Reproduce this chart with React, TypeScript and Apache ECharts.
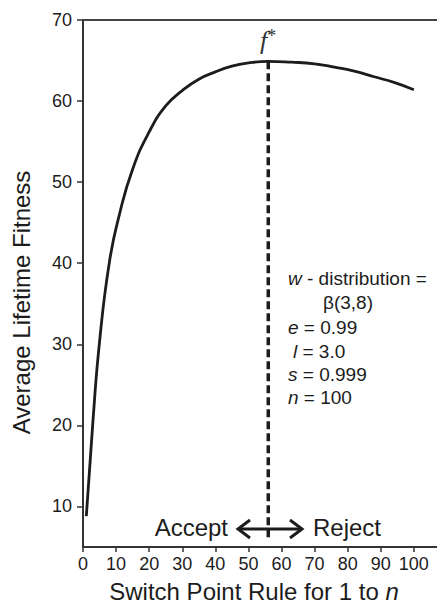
import React, { useEffect, useRef } from "react";
import * as echarts from "echarts";

// Switch point rule (x) and average lifetime fitness (y)
const switchPoints = [1, 3, 5, 8, 11, 15, 20, 25, 30, 35, 40, 45, 50, 56, 63, 70, 76, 82, 88, 94, 100];
const fitness = [8.8, 20.5, 30.3, 40.2, 46.0, 51.6, 56.2, 59.4, 61.3, 62.7, 63.6, 64.3, 64.7, 64.9, 64.8, 64.6, 64.2, 63.7, 63.0, 62.3, 61.4];

// Optimal switch point f*
const fStarX = 56;
const fStarTop = 64.9;
const fStarBottom = 5.7;

const xTicks = [0, 10, 20, 30, 40, 50, 60, 70, 80, 90, 100];
const yTicks = [10, 20, 30, 40, 50, 60, 70];

const paramLines = [
  "{i|w} - distribution =",
  "β(3,8)",
  "{i|e} = 0.99",
  "{i|l} = 3.0",
  "{i|s} = 0.999",
  "{i|n} = 100",
];

const SANS = '"Liberation Sans", Arial, Helvetica, sans-serif';
const SERIF = '"Liberation Serif", "DejaVu Serif", serif';
const INK = "#1c1c1c";

export default function App() {
  const ref = useRef<HTMLDivElement>(null);
  useEffect(() => {
    if (!ref.current) return;
    const chart = echarts.init(ref.current, undefined, { renderer: "svg" });
    const curve = switchPoints.map((x, i) => [x, fitness[i]]);
    const paramX = [288, 323, 288, 293, 288, 288];
    const paramY = [278, 302, 327, 351, 374, 397];
    const rich = {
      i: { fontStyle: "italic", fontSize: 19, fontFamily: SANS, fill: INK },
    };
    chart.setOption({
      animation: false,
      backgroundColor: "#ffffff",
      grid: { left: 83, top: 20, right: 0, bottom: 55, containLabel: false },
      xAxis: [
        {
          type: "value",
          min: 0,
          max: 107,
          position: "bottom",
          name: "Switch Point Rule for 1 to {i|n}",
          nameLocation: "middle",
          nameGap: 32,
          nameTextStyle: {
            fontSize: 24,
            fontFamily: SANS,
            color: INK,
            padding: [0, 12, 0, 0],
            rich: { i: { fontStyle: "italic", fontSize: 24, fontFamily: SANS, color: INK } },
          },
          axisLine: { show: true, lineStyle: { color: "#333", width: 2 } },
          axisTick: { show: true, length: 5, customValues: xTicks, lineStyle: { color: "#333", width: 1.5 } },
          axisLabel: { customValues: xTicks, fontSize: 18, fontFamily: SANS, color: INK, margin: 8 },
          splitLine: { show: false },
        },
        {
          type: "value",
          min: 0,
          max: 107,
          position: "top",
          axisLine: { show: true, lineStyle: { color: "#444", width: 2 } },
          axisTick: { show: false },
          axisLabel: { show: false },
          splitLine: { show: false },
        },
      ],
      yAxis: {
        type: "value",
        min: 5,
        max: 70,
        name: "Average Lifetime Fitness",
        nameLocation: "middle",
        nameGap: 50,
        nameTextStyle: { fontSize: 24, fontFamily: SANS, color: INK, padding: [0, 38, 0, 0] },
        axisLine: { show: true, lineStyle: { color: "#333", width: 2 } },
        axisTick: { show: true, length: 6, customValues: yTicks, lineStyle: { color: "#333", width: 1.5 } },
        axisLabel: { customValues: yTicks, fontSize: 18, fontFamily: SANS, color: INK, margin: 11 },
        splitLine: { show: false },
      },
      series: [
        {
          type: "line",
          data: curve,
          smooth: 0.5,
          showSymbol: false,
          lineStyle: { color: INK, width: 2.8 },
        },
        {
          type: "line",
          data: [
            [fStarX, fStarTop],
            [fStarX, fStarBottom],
          ],
          showSymbol: false,
          lineStyle: { color: INK, width: 3.5, type: [8, 4] },
        },
      ],
      graphic: [
        {
          type: "text",
          x: 268,
          y: 40,
          style: {
            text: "{f|f}{s|*}",
            align: "center",
            verticalAlign: "middle",
            rich: {
              f: { fontStyle: "italic", fontSize: 26, fontFamily: SERIF, fill: "#333" },
              s: { fontSize: 18, fontFamily: SERIF, fill: "#333", verticalAlign: "top", padding: [0, 0, 8, 0] },
            },
          },
        },
        ...paramLines.map((t, k) => ({
          type: "text",
          x: paramX[k],
          y: paramY[k],
          style: {
            text: t,
            fontSize: 19,
            fontFamily: SANS,
            fill: INK,
            verticalAlign: "middle",
            rich,
          },
        })),
        {
          type: "text",
          x: 228,
          y: 527,
          style: { text: "Accept", fontSize: 24, fontFamily: SANS, fill: INK, align: "right", verticalAlign: "middle" },
        },
        {
          type: "text",
          x: 313,
          y: 527,
          style: { text: "Reject", fontSize: 24, fontFamily: SANS, fill: INK, align: "left", verticalAlign: "middle" },
        },
        {
          type: "line",
          shape: { x1: 238, y1: 529, x2: 302, y2: 529 },
          style: { stroke: INK, lineWidth: 3 },
        },
        {
          type: "polyline",
          shape: { points: [[250, 520], [238, 529], [250, 538]] },
          style: { stroke: INK, lineWidth: 3, fill: null },
        },
        {
          type: "polyline",
          shape: { points: [[290, 520], [302, 529], [290, 538]] },
          style: { stroke: INK, lineWidth: 3, fill: null },
        },
      ],
    });
    return () => chart.dispose();
  }, []);
  return (
    <div
      ref={ref}
      style={{ position: "fixed", left: 0, top: 0, width: 437, height: 608, background: "#fff" }}
    />
  );
}
